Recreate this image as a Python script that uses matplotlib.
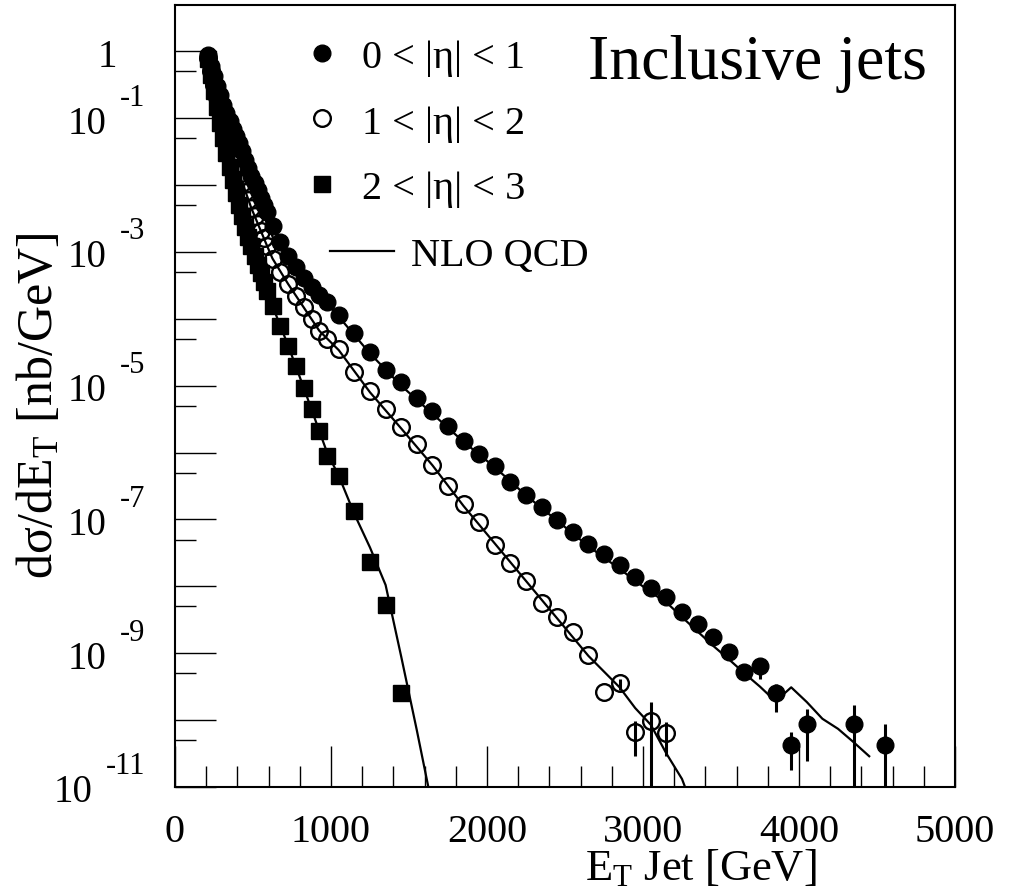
import numpy as np
import matplotlib
matplotlib.use('Agg')
import matplotlib.pyplot as plt
from matplotlib import transforms

plt.rcParams['font.family'] = ['Liberation Serif', 'DejaVu Serif']
plt.rcParams['mathtext.fontset'] = 'custom'
plt.rcParams['mathtext.rm'] = 'Liberation Serif'
plt.rcParams['mathtext.it'] = 'Liberation Serif:italic'

# bin centres [GeV]: 20 GeV bins up to 600, 50 GeV up to 1 TeV, 100 GeV above
et_fine = [210, 230, 250, 270, 290, 310, 330, 350, 370, 390,
           410, 430, 450, 470, 490, 510, 530, 550, 570, 590]
et_mid = [625, 675, 725, 775, 825, 875, 925, 975]
et_high = [1050, 1150, 1250, 1350, 1450, 1550, 1650, 1750, 1850, 1950, 2050, 2150, 2250,
           2350, 2450, 2550, 2650, 2750, 2850, 2950, 3050, 3150, 3250, 3350, 3450, 3550,
           3650, 3750, 3850, 3950, 4050, 4350, 4550]

# log10 of dsigma/dEt [nb/GeV]
et_eta01 = et_fine + et_mid + et_high
lg_eta01 = [-0.05, -0.22, -0.37, -0.52, -0.66, -0.80, -0.93, -1.05, -1.16, -1.27,
            -1.38, -1.50, -1.62, -1.74, -1.86, -1.97, -2.08, -2.19, -2.30, -2.41,
            -2.62, -2.86, -3.06, -3.23, -3.39, -3.53, -3.65, -3.75,
            -3.95, -4.22, -4.49, -4.77, -4.95, -5.19, -5.38, -5.61, -5.83, -6.02, -6.20, -6.44,
            -6.64, -6.82, -7.01, -7.19, -7.37, -7.52, -7.68, -7.86, -8.03, -8.16, -8.39, -8.57,
            -8.76, -8.98, -9.28, -9.19, -9.60, -10.37, -10.06, -10.06, -10.37]
et_eta12 = et_fine + et_mid + et_high[:22]
lg_eta12 = [-0.10, -0.30, -0.50, -0.69, -0.87, -1.05, -1.22, -1.38, -1.54, -1.69,
            -1.83, -1.97, -2.10, -2.23, -2.35, -2.47, -2.58, -2.69, -2.80, -2.91,
            -3.10, -3.30, -3.48, -3.66, -3.83, -4.01, -4.18, -4.30,
            -4.45, -4.80, -5.08, -5.35, -5.62, -5.87, -6.19, -6.50, -6.77, -7.04, -7.38, -7.65,
            -7.92, -8.25, -8.46, -8.68, -9.03, -9.58, -9.45, -10.18, -10.01, -10.19]
et_eta23 = et_fine + et_mid + et_high[:5]
lg_eta23 = [-0.12, -0.35, -0.59, -0.83, -1.07, -1.30, -1.52, -1.73, -1.93, -2.12,
            -2.30, -2.47, -2.63, -2.78, -2.92, -3.06, -3.19, -3.32, -3.45, -3.58,
            -3.81, -4.11, -4.41, -4.71, -5.04, -5.35, -5.68, -6.05,
            -6.35, -6.88, -7.64, -8.28, -9.60]

# error bars (log10 of low / high edge), only where visible
err01_et = [3750, 3850, 3950, 4050, 4350, 4550]
err01_lo = [-9.39, -9.88, -10.75, -10.61, -12.0, -12.0]
err01_hi = [-9.09, -9.46, -10.18, -9.84, -9.78, -10.06]
err12_et = [2850, 2950, 3050, 3150]
err12_lo = [-9.55, -10.54, -12.0, -10.54]
err12_hi = [-9.38, -10.01, -9.73, -10.03]
err23_et = [1450]
err23_lo = [-9.72]
err23_hi = [-9.52]

# NLO QCD curves
nlo01_et = [210, 290, 390, 490, 590, 625, 725, 825, 925, 1050, 1250, 1450, 1650, 1850, 2050,
            2250, 2450, 2650, 2850, 3050, 3150, 3250, 3450, 3550, 3650, 3750, 3850, 3950, 4050,
            4150, 4250, 4350, 4450]
nlo01_lg = [-0.05, -0.66, -1.27, -1.86, -2.41, -2.62, -3.06, -3.39, -3.65, -3.97, -4.52, -5.00,
            -5.42, -5.84, -6.22, -6.64, -7.02, -7.40, -7.74, -8.09, -8.24, -8.46, -8.89, -9.09,
            -9.30, -9.50, -9.72, -9.51, -9.73, -9.98, -10.13, -10.33, -10.54]
nlo12_et = [210, 290, 390, 490, 590, 625, 725, 825, 925, 1050, 1250, 1450, 1650, 1850, 2050,
            2250, 2450, 2650, 2850, 2950, 3050, 3150, 3250, 3350]
nlo12_lg = [-0.10, -0.87, -1.69, -2.35, -2.91, -3.10, -3.48, -3.83, -4.18, -4.47, -5.10, -5.64,
            -6.19, -6.80, -7.36, -7.92, -8.48, -9.04, -9.51, -9.82, -10.07, -10.50, -10.88, -11.5]
nlo23_et = [210, 290, 390, 490, 590, 625, 725, 825, 925, 975, 1050, 1150, 1250, 1350, 1450,
            1550, 1650]
nlo23_lg = [-0.12, -1.07, -2.12, -2.92, -3.58, -3.81, -4.40, -5.03, -5.68, -6.00, -6.35, -6.92,
            -7.42, -7.98, -9.05, -10.15, -11.3]

labels = ['0 < |η| < 1', '1 < |η| < 2', '2 < |η| < 3', 'NLO QCD']
ytick_exps = [-1, -3, -5, -7, -9, -11]

W, H = 1015, 895
fig = plt.figure(figsize=(W / 100, H / 100), dpi=100)
ax = fig.add_axes([175 / W, 107 / H, 780 / W, 782 / H])
ax.set_yscale('log')

p = lambda v: 10.0 ** np.array(v)

ln, = ax.plot(nlo01_et, p(nlo01_lg), color='black', lw=1.6, zorder=2)
ax.plot(nlo12_et, p(nlo12_lg), color='black', lw=1.6, zorder=2)
ax.plot(nlo23_et, p(nlo23_lg), color='black', lw=1.6, zorder=2)

ax.vlines(err01_et, p(err01_lo), p(err01_hi), color='black', lw=2.2, zorder=2)
ax.vlines(err12_et, p(err12_lo), p(err12_hi), color='black', lw=2.2, zorder=2)
ax.vlines(err23_et, p(err23_lo), p(err23_hi), color='black', lw=2.2, zorder=2)

h1, = ax.plot(et_eta01, p(lg_eta01), 'o', color='black', ms=12, zorder=3)
h2, = ax.plot(et_eta12, p(lg_eta12), 'o', mfc='none', mec='black', mew=1.7, ms=12, zorder=3)
h3, = ax.plot(et_eta23, p(lg_eta23), 's', color='black', ms=11.5, zorder=3)

for s in ax.spines.values():
    s.set_linewidth(1.5)
ax.set_xticks(np.arange(0, 5001, 1000))
ax.set_xticks(np.arange(0, 5001, 200), minor=True)
ax.tick_params(axis='x', which='major', direction='in', length=29.5, width=1.0,
               labelsize=29, pad=19)
ax.tick_params(axis='x', which='minor', direction='in', length=15, width=1.0)
ax.set_yticks([10.0 ** k for k in range(-11, 1)])
ax.set_yticks([5 * 10.0 ** k for k in range(-11, 1)], minor=True)
ax.tick_params(axis='y', which='major', direction='in', length=29.5, width=1.0, labelleft=False)
ax.tick_params(axis='y', which='minor', direction='in', length=15, width=1.0, labelleft=False)
ax.set_xlim(0, 5000)
ax.set_ylim(1e-11, 10 ** 0.69)

# ROOT style y labels: "10" with a raised exponent
tr = transforms.blended_transform_factory(ax.transAxes, ax.transData)
tr_one = transforms.offset_copy(tr, fig=fig, x=0, y=-5 * 0.72, units='points')
tr_exp = transforms.offset_copy(tr, fig=fig, x=0, y=21 * 0.72, units='points')
ax.text(-0.0744, 1.0, '1', transform=tr_one, ha='right', va='center', fontsize=28)
for k in ytick_exps:
    e = ax.text(-0.0385, 10.0 ** k, '%d' % k, transform=tr_exp, ha='right', va='center',
                fontsize=22)
    ax.annotate('10', xy=(0, 0.5), xycoords=e, xytext=(-13 * 0.72, -26 * 0.72),
                textcoords='offset points', ha='right', va='center', fontsize=28)

fig.text(40 / W, 1 - 232 / H, 'dσ/dE$_{\\mathrm{T}}$ [nb/GeV]', rotation=90,
         ha='center', va='top', fontsize=36)
fig.text(817 / W, 1 - 869 / H, 'E$_{\\mathrm{T}}$ Jet [GeV]', ha='right', va='center',
         fontsize=32)
fig.text(588 / W, 1 - 64 / H, 'Inclusive jets', ha='left', va='center', fontsize=46)

leg1 = ax.legend([h1, h2, h3], labels[:3], loc='upper left',
                 bbox_to_anchor=(306 / W, 1 - 40 / H), bbox_transform=fig.transFigure,
                 frameon=False, fontsize=29, handlelength=0.8, handletextpad=0.6,
                 labelspacing=0.7, borderpad=0, borderaxespad=0)
ax.add_artist(leg1)
ax.legend([ln], labels[3:], loc='upper left',
          bbox_to_anchor=(330 / W, 1 - 238 / H), bbox_transform=fig.transFigure,
          frameon=False, fontsize=29, handlelength=1.58, handletextpad=0.42,
          borderpad=0, borderaxespad=0)

fig.savefig('out.png', dpi=100)
